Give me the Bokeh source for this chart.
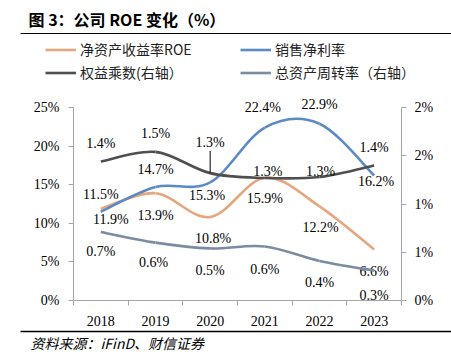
from bokeh.plotting import figure
from bokeh.models import (Range1d, LinearAxis, FixedTicker, ColumnDataSource, Label,
                          Legend, LegendItem, BoxAnnotation)
from bokeh.embed import file_html
from bokeh.resources import INLINE
from bokeh.core.properties import value

# ---------------- data ----------------
years = ["2018", "2019", "2020", "2021", "2022", "2023"]
roe = [11.9, 13.9, 10.8, 15.9, 12.2, 6.6]               # 净资产收益率ROE (left, %)
net_margin = [11.5, 14.7, 15.3, 22.4, 22.9, 16.2]       # 销售净利率 (left, %)
equity_mult = [1.44, 1.54, 1.32, 1.27, 1.28, 1.40]      # 权益乘数 (right)
asset_turnover = [0.71, 0.60, 0.54, 0.56, 0.41, 0.31]   # 总资产周转率 (right)
left_ticks = [0, 5, 10, 15, 20, 25]
left_tick_labels = ["0%", "5%", "10%", "15%", "20%", "25%"]
right_ticks = [0, 0.5, 1.0, 1.5, 2.0]
right_tick_labels = ["0%", "1%", "1%", "2%", "2%"]
series_names = ["净资产收益率ROE", "权益乘数(右轴）", "销售净利率", "总资产周转率（右轴）"]
title_text = "图 3：公司 ROE 变化（%）"
source_text = "资料来源：iFinD、财信证券"

# ---------------- style ----------------
C_ROE = "#E6A67E"
C_NM = "#5B8AC5"
C_EM = "#4F4F4F"
C_AT = "#7A8BA2"
AXIS_C = "#A6A6A6"
SERIF = "Liberation Serif"
CJK = "Noto Sans CJK SC"

# data-label offsets (screen px)
nm_off = ([0, 0, -3, -2, 0, 2], [-17, -18, 13, -20, -19, 6])
roe_off = ([10, 0, 3, 0, 1, 0], [11, 22, 21, 21, 21, 22])
em_off = ([0, 0, 0, 3, 1, 0], [-18, -18, -31, -6, -5, -18])
at_off = ([0, -2, 0, 0, 0, 0], [20, 20, 22, 23, 22, 25])

W, H = 451, 352
FL, FR, FT, FB = 73, 401, 107, 300      # axis box in page pixels
L_MAX, R_MAX = 25, 2
n = len(years)

# the frame covers the whole canvas; axes are pinned to the axis box
px_cat = (FR - FL) / n
px_l = (FB - FT) / L_MAX
px_r = (FB - FT) / R_MAX
p = figure(width=W, height=H, output_backend="svg", toolbar_location=None,
           x_range=Range1d(-FL / px_cat, n + (W - FR) / px_cat),
           y_range=Range1d(-(H - FB) / px_l, L_MAX + FT / px_l),
           min_border=0, min_border_left=0, min_border_right=0,
           min_border_top=0, min_border_bottom=0)
p.outline_line_color = None
p.xgrid.visible = False
p.ygrid.visible = False
p.background_fill_color = "white"
p.border_fill_color = "white"
p.extra_y_ranges = {"right": Range1d(-(H - FB) / px_r, R_MAX + FT / px_r)}

centers = [i + 0.5 for i in range(n)]

xa = p.xaxis[0]
xa.fixed_location = 0
xa.bounds = (0, n)
xa.ticker = FixedTicker(ticks=centers, minor_ticks=list(range(n + 1)))
xa.major_label_overrides = {c: y for c, y in zip(centers, years)}
xa.major_tick_out = 0
xa.major_tick_in = 0
xa.minor_tick_out = 5
xa.minor_tick_in = 0
xa.axis_line_color = AXIS_C
xa.minor_tick_line_color = AXIS_C
xa.major_label_text_font = SERIF
xa.major_label_text_font_size = "14px"
xa.major_label_text_color = "black"
xa.major_label_standoff = 10

ya = p.yaxis[0]
ya.fixed_location = 0
ya.bounds = (0, L_MAX)
ya.ticker = FixedTicker(ticks=left_ticks, minor_ticks=[])
ya.major_label_overrides = {t: l for t, l in zip(left_ticks, left_tick_labels)}
ya.major_tick_out = 5
ya.major_tick_in = 0
ya.axis_line_color = AXIS_C
ya.major_tick_line_color = AXIS_C
ya.major_label_text_font = SERIF
ya.major_label_text_font_size = "14px"
ya.major_label_text_color = "black"
ya.major_label_standoff = 9

ra = LinearAxis(y_range_name="right", bounds=(0, R_MAX), fixed_location=n,
                ticker=FixedTicker(ticks=right_ticks, minor_ticks=[]))
ra.major_label_overrides = {t: l for t, l in zip(right_ticks, right_tick_labels)}
ra.major_tick_out = 5
ra.major_tick_in = 0
ra.axis_line_color = AXIS_C
ra.major_tick_line_color = AXIS_C
ra.major_label_text_font = SERIF
ra.major_label_text_font_size = "14px"
ra.major_label_text_color = "black"
ra.major_label_standoff = 8
p.add_layout(ra, "right")


def smooth_segments(xs, ys):
    m = len(xs)
    d = dict(x0=[], y0=[], x1=[], y1=[], cx0=[], cy0=[], cx1=[], cy1=[])
    for i in range(m - 1):
        xp, yp = (xs[i - 1], ys[i - 1]) if i > 0 else (xs[i], ys[i])
        xn2, yn2 = (xs[i + 2], ys[i + 2]) if i + 2 < m else (xs[i + 1], ys[i + 1])
        d["x0"].append(xs[i]); d["y0"].append(ys[i])
        d["x1"].append(xs[i + 1]); d["y1"].append(ys[i + 1])
        d["cx0"].append(xs[i] + (xs[i + 1] - xp) / 6)
        d["cy0"].append(ys[i] + (ys[i + 1] - yp) / 6)
        d["cx1"].append(xs[i + 1] - (xn2 - xs[i]) / 6)
        d["cy1"].append(ys[i + 1] - (yn2 - ys[i]) / 6)
    return ColumnDataSource(d)


def series(vals, color, rng, offs):
    kw = {} if rng is None else {"y_range_name": rng}
    r = p.bezier(x0="x0", y0="y0", x1="x1", y1="y1", cx0="cx0", cy0="cy0",
                 cx1="cx1", cy1="cy1", source=smooth_segments(centers, vals),
                 line_color=color, line_width=2.6, **kw)
    src = ColumnDataSource(dict(x=centers, y=vals, t=[f"{v:.1f}%" for v in vals],
                                dx=offs[0], dy=offs[1]))
    p.text(x="x", y="y", text="t", x_offset="dx", y_offset="dy", source=src,
           text_align="center", text_baseline="middle", text_font=value(SERIF),
           text_font_size="14px", text_color="black", **kw)
    return r


r_roe = series(roe, C_ROE, None, roe_off)
r_nm = series(net_margin, C_NM, None, nm_off)
r_em = series(equity_mult, C_EM, "right", em_off)
r_at = series(asset_turnover, C_AT, "right", at_off)

# leader line for the 2020 equity-multiplier label
p.segment(x0=[centers[2]], x1=[centers[2]], y0=[equity_mult[2]],
          y1=[equity_mult[2] + 0.23], y_range_name="right",
          line_color="black", line_width=1)


# ---------------- legend ----------------
def make_legend(items, x):
    lg = Legend(items=items, location=(x, H - 82), orientation="vertical",
                padding=0, margin=0, spacing=3, label_height=17, glyph_height=17,
                glyph_width=31, label_standoff=4, border_line_alpha=0,
                background_fill_alpha=0, label_text_font=CJK,
                label_text_font_size="14px", label_text_color="#222222")
    p.add_layout(lg, "center")


make_legend([LegendItem(label=series_names[0], renderers=[r_roe]),
             LegendItem(label=series_names[1], renderers=[r_em])], 45)
make_legend([LegendItem(label=series_names[2], renderers=[r_nm]),
             LegendItem(label=series_names[3], renderers=[r_at])], 240)

# ---------------- title, rules, source ----------------
p.add_layout(Label(x=28, y=H - 18, x_units="screen", y_units="screen", text=title_text,
                   text_font=CJK, text_font_style="bold", text_font_size="16px",
                   text_baseline="middle", text_color="black"))
for yy, lw in ((33, 1.2), (331, 1.5)):
    p.add_layout(BoxAnnotation(left=20, right=W, bottom=H - yy - lw / 2, top=H - yy + lw / 2,
                               left_units="screen", right_units="screen",
                               bottom_units="screen", top_units="screen",
                               fill_color="black", fill_alpha=1, line_alpha=0))
p.add_layout(Label(x=30, y=H - 342, x_units="screen", y_units="screen", text=source_text,
                   text_font=CJK, text_font_style="italic", text_font_size="14px",
                   text_baseline="middle", text_color="black"))

open("out.html", "w").write(file_html(p, INLINE))
